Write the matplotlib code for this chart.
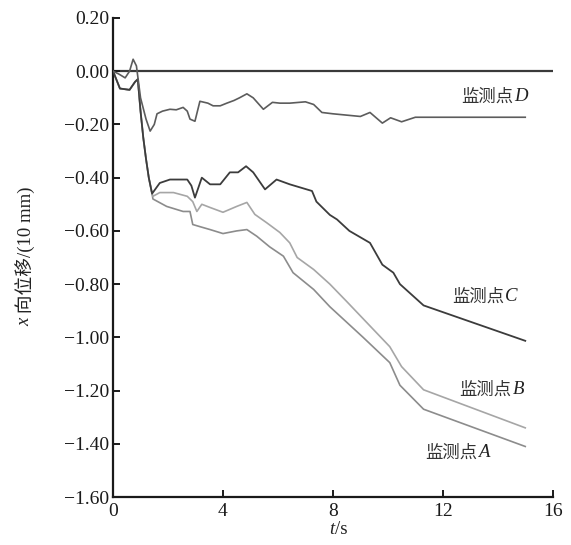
import matplotlib
matplotlib.use("Agg")
import matplotlib.pyplot as plt

SERIF = ['Liberation Serif', 'Noto Sans CJK SC', 'DejaVu Sans']
plt.rcParams['font.family'] = SERIF

# ---- data ----
early_t = [0, 0.25, 0.6, 0.8, 0.9, 1.0, 1.1, 1.2, 1.3, 1.42]
early_y = [0, -0.065, -0.07, -0.04, -0.03, -0.15, -0.25, -0.33, -0.40, -0.46]

d_t = [0, 0.2, 0.44, 0.6, 0.73, 0.85, 1.0, 1.2, 1.35, 1.5, 1.6, 1.8, 2.07, 2.3, 2.55,
       2.7, 2.8, 2.98, 3.16, 3.45, 3.64, 3.9, 4.14, 4.4, 4.6, 4.87, 5.1, 5.47, 5.8,
       6.07, 6.43, 7.0, 7.3, 7.6, 8.0, 8.5, 9.0, 9.35, 9.8, 10.1, 10.5, 11.0, 15.0]
d_y = [0, -0.01, -0.025, 0.0, 0.045, 0.02, -0.1, -0.18, -0.225, -0.20, -0.16, -0.15,
       -0.143, -0.145, -0.136, -0.15, -0.18, -0.188, -0.113, -0.12, -0.13, -0.13,
       -0.12, -0.11, -0.10, -0.085, -0.10, -0.143, -0.117, -0.12, -0.12, -0.115,
       -0.125, -0.155, -0.16, -0.165, -0.17, -0.155, -0.195, -0.175, -0.19, -0.173, -0.173]

c_t = early_t + [1.7, 2.07, 2.7, 2.85, 2.98, 3.23, 3.53, 3.9, 4.25, 4.55, 4.84, 5.1,
                 5.53, 5.95, 6.43, 7.24, 7.4, 7.89, 8.15, 8.6, 9.35, 9.8, 10.2, 10.44,
                 11.3, 15.0]
c_y = early_y + [-0.42, -0.407, -0.407, -0.43, -0.475, -0.40, -0.425, -0.425, -0.38,
                 -0.38, -0.357, -0.38, -0.444, -0.407, -0.425, -0.45, -0.49, -0.54,
                 -0.557, -0.60, -0.645, -0.727, -0.757, -0.80, -0.88, -1.013]

b_t = early_t + [1.45, 1.7, 2.2, 2.7, 2.9, 3.05, 3.23, 3.53, 4.0, 4.5, 4.87, 5.16,
                 5.6, 6.07, 6.43, 6.7, 7.3, 7.89, 8.5, 9.1, 10.07, 10.5, 11.3, 15.0]
b_y = early_y + [-0.47, -0.456, -0.456, -0.47, -0.49, -0.527, -0.50, -0.512, -0.53,
                 -0.508, -0.493, -0.538, -0.57, -0.606, -0.645, -0.70, -0.745, -0.80,
                 -0.865, -0.93, -1.035, -1.11, -1.197, -1.34]

a_t = early_t + [1.45, 1.95, 2.55, 2.8, 2.9, 3.16, 3.53, 4.0, 4.5, 4.87, 5.23, 5.7,
                 6.2, 6.55, 7.3, 7.89, 9.1, 10.07, 10.44, 11.3, 15.0]
a_y = early_y + [-0.48, -0.508, -0.527, -0.527, -0.576, -0.584, -0.595, -0.61, -0.60,
                 -0.595, -0.62, -0.66, -0.695, -0.757, -0.82, -0.885, -1.0, -1.095,
                 -1.18, -1.27, -1.41]

label_prefix = '监测点'
label_letters = ['A', 'B', 'C', 'D']
label_pos = [(13.71, -1.434), (14.98, -1.197), (14.73, -0.847), (15.1, -0.094)]

xticks = [0, 4, 8, 12, 16]
yticks = [0.2, 0.0, -0.2, -0.4, -0.6, -0.8, -1.0, -1.2, -1.4, -1.6]
yticklabels = ['0.20', '0.00', '\u22120.20', '\u22120.40', '\u22120.60', '\u22120.80',
               '\u22121.00', '\u22121.20', '\u22121.40', '\u22121.60']

# ---- plot ----
fig = plt.figure(figsize=(5.71, 5.45), dpi=100)
ax = fig.add_axes([0.198, 0.088, 0.770, 0.879])

ax.axhline(0, color='#3a3a3a', lw=1.6, zorder=1)
ax.plot(a_t, a_y, color='#8c8c8c', lw=1.2, zorder=2)
ax.plot(b_t, b_y, color='#a6a6a6', lw=1.2, zorder=2)
ax.plot(c_t, c_y, color='#3c3c3c', lw=1.3, zorder=3)
ax.plot(d_t, d_y, color='#5c5c5c', lw=1.2, zorder=3)

TXT = '#222222'
for letter, (x, y) in zip(label_letters, label_pos):
    t_let = ax.text(x, y, letter, ha='right', va='center', fontsize=13.5,
                    family='Liberation Serif', style='italic', color=TXT)
    ax.annotate(label_prefix, xy=(0, 0.5), xycoords=t_let, xytext=(-1, 0),
                textcoords='offset points', ha='right', va='center',
                fontsize=12.5, family=['Noto Sans CJK SC'], color='#333333')

ax.set_xlim(0, 16)
ax.set_ylim(-1.6, 0.2)
ax.set_xticks(xticks)
ax.set_xticklabels([str(v) for v in xticks])
ax.set_yticks(yticks)
ax.set_yticklabels(yticklabels)

for s in ['top', 'right']:
    ax.spines[s].set_visible(False)
for s in ['left', 'bottom']:
    ax.spines[s].set_linewidth(1.6)
    ax.spines[s].set_color('#1a1a1a')

ax.tick_params(axis='both', direction='in', length=5, width=1.4, labelsize=14,
               colors='#1a1a1a')
ax.tick_params(axis='x', pad=4)
ax.tick_params(axis='y', pad=3)

# x label: italic t + "/s"
fig.text(0.586, 0.012, '/s', ha='left', va='bottom', fontsize=13.5,
         family='Liberation Serif', color=TXT)
fig.text(0.586, 0.012, 't', ha='right', va='bottom', fontsize=13.5,
         family='Liberation Serif', style='italic', color=TXT)

# y label: italic x + " 向位移/(10 mm)"
fig.text(0.043, 0.417, ' 向位移/(10 mm)', rotation=90, ha='center', va='bottom',
         fontsize=13.5, family=SERIF, color=TXT)
fig.text(0.043, 0.417, 'x', rotation=90, ha='center', va='top', fontsize=13.5,
         family='Liberation Serif', style='italic', color=TXT)

fig.savefig('out.png', dpi=100)
